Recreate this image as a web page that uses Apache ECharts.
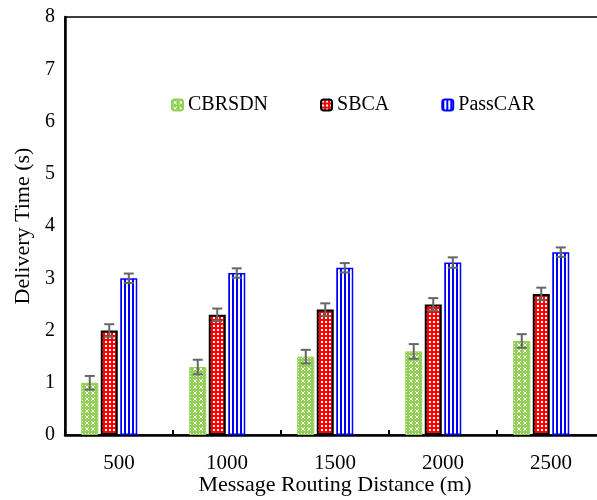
<!DOCTYPE html>
<html>
<head>
<meta charset="utf-8">
<script src="https://cdn.jsdelivr.net/npm/echarts@6/dist/echarts.min.js"></script>
<style>
html,body{margin:0;padding:0;background:#fff;}
#chart{width:597px;height:500px;}
</style>
</head>
<body>
<div id="chart"></div>
<script>
var categories = ['500', '1000', '1500', '2000', '2500'];
var seriesNames = ['CBRSDN', 'SBCA', 'PassCAR'];
var cbrsdn = [1.0, 1.3, 1.5, 1.6, 1.8];
var sbca = [2.0, 2.3, 2.4, 2.5, 2.7];
var passcar = [3.0, 3.1, 3.2, 3.3, 3.5];
var cbrsdnErr = [0.13, 0.14, 0.13, 0.14, 0.13];
var sbcaErr = [0.12, 0.12, 0.12, 0.12, 0.12];
var passcarErr = [0.09, 0.09, 0.09, 0.1, 0.09];
var yTicks = [0, 1, 2, 3, 4, 5, 6, 7, 8];

function makeTile(w, h, draw) {
  var c = document.createElement('canvas');
  c.width = w; c.height = h;
  var ctx = c.getContext('2d');
  draw(ctx);
  return { image: c, repeat: 'repeat' };
}
var greenPat = makeTile(6, 6, function (ctx) {
  ctx.fillStyle = '#92CF55'; ctx.fillRect(0, 0, 6, 6);
  ctx.fillStyle = '#ffffff';
  ctx.fillRect(1, 1, 1, 1); ctx.fillRect(4, 1, 1, 1);
  ctx.fillRect(2, 2, 2, 2);
  ctx.fillRect(1, 4, 1, 1); ctx.fillRect(4, 4, 1, 1);
});
var redPat = makeTile(4, 4, function (ctx) {
  ctx.fillStyle = '#FF0000'; ctx.fillRect(0, 0, 4, 4);
  ctx.fillStyle = '#ffffff'; ctx.fillRect(1, 1, 2, 2);
});
var bluePat = makeTile(4, 4, function (ctx) {
  ctx.fillStyle = '#ffffff'; ctx.fillRect(0, 0, 4, 4);
  ctx.fillStyle = '#0000FF'; ctx.fillRect(0, 0, 2, 4);
});

var BW = 17, GAP = 2.5;
function errSeries(vals, errs, idx) {
  var data = vals.map(function (v, i) { return [i, v, errs[i]]; });
  return {
    type: 'custom',
    z: 10,
    silent: true,
    data: data,
    renderItem: function (params, api) {
      var i = api.value(0), v = api.value(1), e = api.value(2);
      var center = api.coord([i, v]);
      var off = (idx - 1.5) * (BW + GAP);
      var x = center[0] + off;
      var top = api.coord([i, v + e])[1];
      var bot = api.coord([i, v - e])[1];
      var cw = 5;
      var st = { stroke: '#666666', lineWidth: 2 };
      return {
        type: 'group',
        children: [
          { type: 'line', shape: { x1: x, y1: top, x2: x, y2: bot }, style: st },
          { type: 'line', shape: { x1: x - cw, y1: top, x2: x + cw, y2: top }, style: st },
          { type: 'line', shape: { x1: x - cw, y1: bot, x2: x + cw, y2: bot }, style: st }
        ]
      };
    }
  };
}

var font = 'Liberation Serif';
var chart = echarts.init(document.getElementById('chart'));
chart.setOption({
  backgroundColor: '#ffffff',
  animation: false,
  grid: { left: 65, top: 17, right: -8, bottom: 65, containLabel: false, outerBoundsMode: 'none',
    show: true, borderColor: '#000', borderWidth: 1.5, backgroundColor: 'transparent' },
  legend: {
    data: seriesNames,
    left: 166, top: 90,
    itemWidth: 11, itemHeight: 11,
    itemGap: 52,
    textStyle: { fontFamily: font, fontSize: 20, color: '#000' }
  },
  xAxis: {
    type: 'category',
    data: categories,
    name: 'Message Routing Distance (m)',
    nameLocation: 'middle',
    nameGap: 39,
    nameMoveOverlap: false,
    nameTextStyle: { fontFamily: font, fontSize: 22, color: '#000', verticalAlign: 'top' },
    axisLine: { lineStyle: { color: '#000', width: 2.5 } },
    axisTick: { show: true, inside: true, length: 5, lineStyle: { color: '#000', width: 2 } },
    axisLabel: { fontFamily: font, fontSize: 21, color: '#000', margin: 18 }
  },
  yAxis: {
    type: 'value',
    min: yTicks[0], max: yTicks[yTicks.length - 1], interval: 1,
    name: 'Delivery Time (s)',
    nameLocation: 'middle',
    nameGap: 31,
    nameMoveOverlap: false,
    nameTextStyle: { fontFamily: font, fontSize: 22, color: '#000' },
    axisLine: { show: true, lineStyle: { color: '#000', width: 2.5 } },
    axisTick: { show: false },
    splitLine: { show: false },
    axisLabel: { fontFamily: font, fontSize: 20, color: '#000', margin: 10 }
  },
  series: [
    { name: seriesNames[0], type: 'bar', data: cbrsdn, barWidth: BW, barGap: (GAP / BW * 100) + '%',
      itemStyle: { color: greenPat, borderColor: '#92CF55', borderWidth: 1 } },
    { name: seriesNames[1], type: 'bar', data: sbca, barWidth: BW,
      itemStyle: { color: redPat, borderColor: '#000', borderWidth: 2 } },
    { name: seriesNames[2], type: 'bar', data: passcar, barWidth: BW,
      itemStyle: { color: bluePat, borderColor: '#0000FF', borderWidth: 1.5 } },
    { name: 'empty', type: 'bar', data: ['-', '-', '-', '-', '-'], barWidth: BW },
    errSeries(cbrsdn, cbrsdnErr, 0),
    errSeries(sbca, sbcaErr, 1),
    errSeries(passcar, passcarErr, 2)
  ]
});
</script>
</body>
</html>
